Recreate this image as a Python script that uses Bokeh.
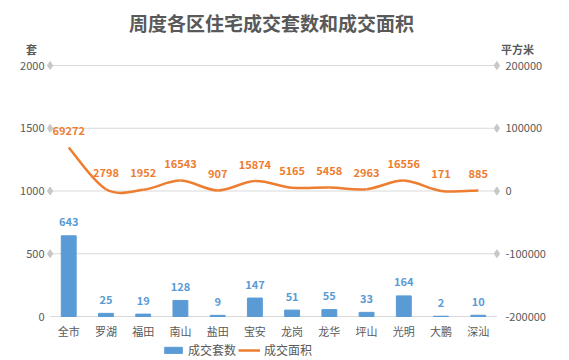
from bokeh.plotting import figure
from bokeh.models import (Range1d, LinearAxis, FixedTicker, Label, Legend, LegendItem,
                          NumeralTickFormatter)
from bokeh.core.properties import value
from bokeh.embed import file_html
from bokeh.resources import INLINE

# ---- data ----
categories = ["全市", "罗湖", "福田", "南山", "盐田", "宝安", "龙岗", "龙华", "坪山", "光明", "大鹏", "深汕"]
units_sold = [643, 25, 19, 128, 9, 147, 51, 55, 33, 164, 2, 10]
area_sold = [69272, 2798, 1952, 16543, 907, 15874, 5165, 5458, 2963, 16556, 171, 885]
left_ticks = [0, 500, 1000, 1500, 2000]
right_ticks = [-200000, -100000, 0, 100000, 200000]
title_text = "周度各区住宅成交套数和成交面积"
left_unit = "套"
right_unit = "平方米"
series_names = ["成交套数", "成交面积"]

# ---- style ----
FONT = "Noto Sans CJK SC"
GREY = "#595959"
BLUE = "#5B9BD5"
ORANGE = "#ED7D31"
GRID = "#D9D9D9"
DIAMOND = "#C8C8C8"

# ---- layout (pixels) ----
W, H = 569, 360
FL, FR, FT, FB = 20, 540, 0, 360           # frame edges
PX0, PX1 = 49.6, 496.4                      # pixel of category-axis start / end
PY0, PYT = 316.0, 65.0                      # pixel of left value 0 / top tick

n = len(categories)
xs = [i + 0.5 for i in range(n)]

ux = (PX1 - PX0) / n
x_start = -(PX0 - FL) / ux
x_end = n + (FR - PX1) / ux
uy = (PY0 - PYT) / (left_ticks[-1] - left_ticks[0])
L0 = left_ticks[0] - (FB - PY0) / uy
L1 = left_ticks[-1] + (PYT - FT) / uy
ratio = (right_ticks[-1] - right_ticks[0]) / (left_ticks[-1] - left_ticks[0])
R0 = right_ticks[0] + (L0 - left_ticks[0]) * ratio
R1 = right_ticks[0] + (L1 - left_ticks[0]) * ratio

p = figure(width=W, height=H, output_backend="svg", toolbar_location=None,
           x_range=Range1d(x_start, x_end), y_range=Range1d(L0, L1),
           min_border_left=FL, min_border_right=W - FR, min_border_top=FT,
           min_border_bottom=H - FB)
p.title.visible = False
p.extra_y_ranges = {"area": Range1d(R0, R1)}
p.outline_line_color = None
p.xgrid.visible = False
p.ygrid.visible = False

# axes
p.xaxis.ticker = FixedTicker(ticks=xs)
p.xaxis.major_label_overrides = {x: c for x, c in zip(xs, categories)}
p.yaxis.ticker = FixedTicker(ticks=left_ticks)
right_axis = LinearAxis(y_range_name="area", ticker=FixedTicker(ticks=right_ticks),
                        formatter=NumeralTickFormatter(format="0"))
p.add_layout(right_axis, "right")

for ax in [p.xaxis[0], p.yaxis[0], right_axis]:
    ax.axis_line_color = None
    ax.major_tick_line_color = None
    ax.minor_tick_line_color = None
    ax.major_tick_out = 0
    ax.major_tick_in = 0
    ax.major_label_text_color = GREY
    ax.major_label_text_font = FONT
    ax.major_label_text_font_size = "11px"
p.xaxis.major_label_standoff = 322 - FB
p.yaxis[0].major_label_standoff = FL - 44
right_axis.major_label_standoff = 505 - FR

# grid lines with diamond ends
grid_vals = left_ticks[1:]
p.segment(x0=[0] * len(left_ticks), y0=left_ticks, x1=[n] * len(left_ticks), y1=left_ticks,
          line_color=GRID, line_width=1.2)
p.scatter(x=[0] * len(grid_vals) + [n] * len(grid_vals), y=grid_vals + grid_vals,
          marker="diamond", size=8, color=DIAMOND)

# bars
bars = p.vbar(x=xs, top=units_sold, width=0.4, color=BLUE)

# smooth line (catmull-rom -> bezier)
P = list(zip(xs, area_sold))
bx0, by0, bx1, by1, cx0, cy0, cx1, cy1 = [], [], [], [], [], [], [], []
for i in range(n - 1):
    p0 = P[i - 1] if i > 0 else P[i]
    p1 = P[i]
    p2 = P[i + 1]
    p3 = P[i + 2] if i + 2 < n else P[i + 1]
    bx0.append(p1[0]); by0.append(p1[1])
    bx1.append(p2[0]); by1.append(p2[1])
    cx0.append(p1[0] + (p2[0] - p0[0]) / 6); cy0.append(p1[1] + (p2[1] - p0[1]) / 6)
    cx1.append(p2[0] - (p3[0] - p1[0]) / 6); cy1.append(p2[1] - (p3[1] - p1[1]) / 6)
p.bezier(x0=bx0, y0=by0, x1=bx1, y1=by1, cx0=cx0, cy0=cy0, cx1=cx1, cy1=cy1,
         line_color=ORANGE, line_width=2.5, y_range_name="area")

# data labels
p.text(x=xs, y=units_sold, text=[str(v) for v in units_sold], text_align="center",
       text_baseline="middle", y_offset=-14, text_color=BLUE, text_font=value(FONT),
       text_font_size="11px", text_font_style="bold")
p.text(x=xs, y=area_sold, text=[str(v) for v in area_sold], text_align="center",
       text_baseline="middle", y_offset=-17, text_color=ORANGE, text_font=value(FONT),
       text_font_size="11px", text_font_style="bold", y_range_name="area")

# title and unit labels (screen units measured from frame bottom-left)
p.add_layout(Label(x=(PX0 + PX1) / 2 - FL - 2, y=FB - 22, x_units="screen", y_units="screen",
                   text=title_text, text_align="center", text_baseline="middle",
                   text_color=GREY, text_font=FONT, text_font_size="19px", text_font_style="bold"))
p.add_layout(Label(x=31 - FL, y=FB - 48, x_units="screen", y_units="screen",
                   text=left_unit, text_align="center", text_baseline="middle",
                   text_color=GREY, text_font=FONT, text_font_size="11px", text_font_style="bold"))
p.add_layout(Label(x=517 - FL, y=FB - 48, x_units="screen", y_units="screen",
                   text=right_unit, text_align="center", text_baseline="middle",
                   text_color=GREY, text_font=FONT, text_font_size="11px", text_font_style="bold"))

# legend (inside the frame's bottom band); one-point line draws nothing on the chart
legend_line = p.line(x=xs[:1], y=area_sold[:1], line_color=ORANGE, line_width=2.5,
                     y_range_name="area")
legend = Legend(items=[LegendItem(label=series_names[0], renderers=[bars]),
                       LegendItem(label=series_names[1], renderers=[legend_line])],
                orientation="horizontal", location=(162 - FL, FB - 358), border_line_color=None,
                background_fill_alpha=0, padding=0, margin=0, spacing=2,
                glyph_width=22, glyph_height=8, label_standoff=4, label_height=12,
                label_text_font=FONT, label_text_font_size="12px",
                label_text_color=GREY)
p.add_layout(legend, "center")

open("out.html", "w").write(file_html(p, INLINE))
